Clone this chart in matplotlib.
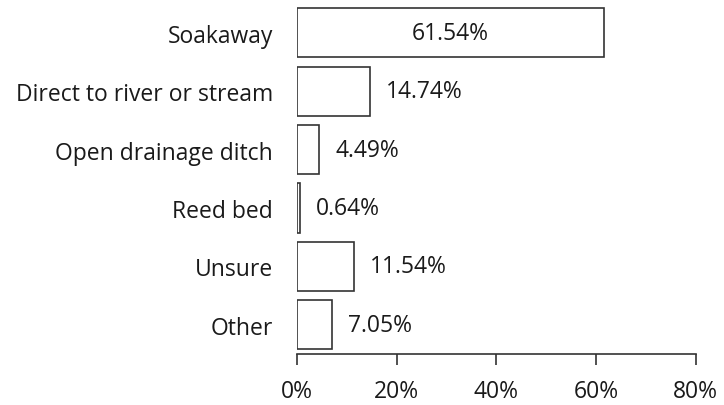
import matplotlib
matplotlib.use("Agg")
import matplotlib.pyplot as plt

categories = ["Soakaway", "Direct to river or stream", "Open drainage ditch",
              "Reed bed", "Unsure", "Other"]
values = [61.54, 14.74, 4.49, 0.64, 11.54, 7.05]
xticks = [0, 20, 40, 60, 80]

plt.rcParams['font.family'] = ['Open Sans', 'DejaVu Sans']
fs = 16.5

fig = plt.figure(figsize=(7.24, 4.06), dpi=100)
ax = fig.add_axes([0.410, 0.1256, 0.551, 0.863])

pos = list(range(len(categories)))
ax.barh(pos, values, height=0.84, color="white", edgecolor="#333333", linewidth=1.2)
ax.set_ylim(5.5, -0.5)
ax.set_xlim(0, 80)

for p, v in zip(pos, values):
    lbl = "%.2f%%" % v
    if v > 40:
        ax.text(v / 2, p, lbl, ha="center", va="center", fontsize=fs, color="#1a1a1a")
    else:
        ax.text(v + 3.2, p, lbl, ha="left", va="center", fontsize=fs, color="#1a1a1a")

ax.set_yticks(pos)
ax.set_yticklabels(categories, fontsize=fs, color="#1a1a1a")
ax.tick_params(axis="y", length=0, pad=17)
ax.set_xticks(xticks)
ax.set_xticklabels(["%d%%" % t for t in xticks], fontsize=fs, color="#1a1a1a")
ax.tick_params(axis="x", direction="out", length=8, width=1.2, color="#333333", pad=10)

for s in ["top", "right", "left"]:
    ax.spines[s].set_visible(False)
ax.spines["bottom"].set_color("#333333")
ax.spines["bottom"].set_linewidth(1.2)

fig.savefig("out.png", dpi=100)
